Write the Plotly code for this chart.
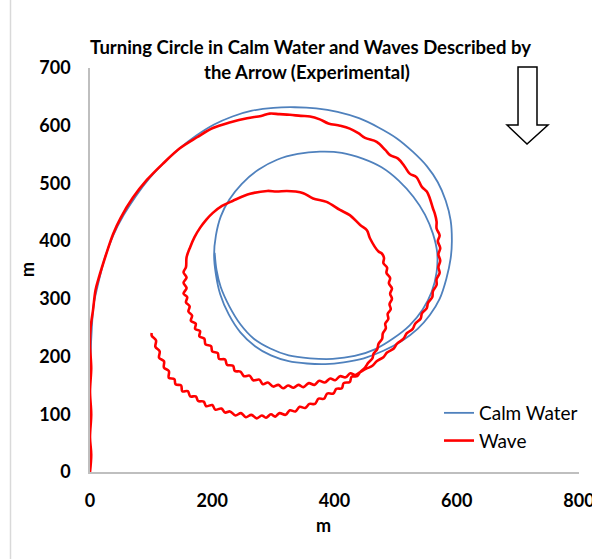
import plotly.graph_objects as go

# Ship track in calm water (m)
calm_x = [0, 0, 1, 3, 6, 12, 24, 38, 55, 75, 98, 122, 147, 174, 203, 233, 265,
          300, 335, 370, 405, 440, 472, 502, 528, 551, 569, 582, 590, 592, 590,
          583, 572, 556, 536, 510, 480, 448, 415, 385, 355, 325, 296, 270, 246,
          227, 213, 206, 203, 206, 214, 228, 248, 276, 306, 340, 376, 412, 446,
          477, 505, 529, 548, 561, 568, 567, 559, 544, 523, 497, 467, 433, 397,
          360, 325, 295, 268, 246, 228, 214, 207, 204]
calm_y = [0, 100, 200, 250, 290, 320, 370, 410, 445, 478, 510, 537, 561, 583,
          602, 616, 626, 631, 632, 630, 624, 613, 597, 578, 555, 530, 502, 470,
          436, 400, 370, 335, 300, 272, 248, 227, 210, 197, 190, 187, 188, 192,
          202, 218, 242, 273, 308, 342, 376, 410, 443, 472, 499, 524, 541, 551,
          555, 553, 543, 528, 505, 477, 446, 413, 380, 346, 312, 281, 254, 232,
          213, 201, 196, 197, 202, 214, 231, 256, 287, 320, 350, 380]

# Ship track in waves (m), piece by piece along the path
approach_x = [0, 2, 0, 2, 0, 2, 0, 1]
approach_y = [0, 30, 60, 100, 140, 180, 220, 250]
first_arc_x = [5, 9, 14, 26, 38, 50, 70, 93, 120, 147, 175, 201, 230, 257, 280,
               294, 310, 327, 345, 360]
first_arc_y = [281, 315, 335, 376, 413, 440, 475, 506, 535, 561, 580, 596, 606,
               613, 617, 621, 620, 619, 617, 616]
east_x = [376, 390, 409, 425, 439, 450, 469, 483, 491, 504, 515, 523, 534, 543,
          551, 556, 561, 564, 567, 567, 572, 569, 573, 570, 573, 570, 572, 567,
          567, 561, 560, 553, 551, 543, 541, 532, 528, 518, 513, 502, 497, 486,
          480, 469, 462, 452, 442]
east_y = [611, 604, 600, 595, 587, 579, 572, 558, 549, 543, 529, 517, 511, 494,
          486, 474, 457, 448, 434, 422, 410, 400, 388, 377, 366, 355, 345, 334,
          324, 313, 303, 293, 284, 275, 266, 257, 248, 240, 231, 222, 214, 207,
          199, 192, 184, 179, 173]
middle_x = [434, 426, 418, 409, 401, 393, 384, 375, 367, 358, 349, 341, 333, 324,
            316, 308, 300, 291, 283, 277, 267, 261, 252, 246, 237, 234, 224, 221,
            211, 209, 200, 198, 189, 187, 179, 180, 172, 173, 165, 167, 161, 163,
            157, 159, 153, 158, 153, 158, 153, 157]
middle_y = [168, 171, 164, 166, 159, 162, 155, 158, 151, 154, 147, 151, 146, 150,
            145, 151, 148, 155, 152, 160, 159, 167, 166, 174, 175, 184, 186, 195,
            196, 206, 209, 218, 221, 231, 235, 244, 248, 257, 262, 271, 278, 287,
            294, 303, 309, 319, 328, 337, 346, 355]
inner_top_x = [158, 164, 171, 180, 190, 201, 216, 234, 262, 290, 305, 322, 336,
               349, 365, 387, 409, 425, 442, 453, 458, 472]
inner_top_y = [372, 390, 407, 423, 437, 449, 461, 470, 482, 487, 486, 487, 486,
               483, 474, 468, 454, 445, 428, 419, 405, 382]
inner_east_x = [477, 481, 480, 486, 485, 491, 489, 494, 491, 494, 490, 492, 487,
                488, 483, 484, 479, 478, 472, 470, 464, 462, 455, 450, 442]
inner_east_y = [379, 371, 362, 354, 345, 336, 327, 318, 309, 300, 291, 282, 274,
                265, 257, 249, 240, 231, 222, 213, 205, 197, 189, 181, 173]
south_x = [437, 428, 425, 415, 412, 403, 398, 388, 383, 374, 368, 359, 352, 343,
           336, 327, 320, 310, 303, 296, 288, 281, 273, 264, 255, 247, 238, 229,
           221, 215, 205, 200, 190, 186, 177, 173, 164, 160, 151, 149, 140, 138,
           129, 129, 121, 121, 113, 114, 107, 108, 101, 101]
south_y = [166, 165, 156, 154, 145, 144, 136, 136, 127, 127, 118, 118, 111, 113,
           105, 107, 99, 102, 96, 100, 94, 98, 93, 99, 95, 102, 98, 105, 103, 110,
           108, 116, 114, 122, 123, 131, 131, 140, 140, 150, 152, 161, 163, 175,
           181, 192, 198, 209, 217, 228, 236, 241]

wave_x = approach_x + first_arc_x + east_x + middle_x + inner_top_x + inner_east_x + south_x
wave_y = approach_y + first_arc_y + east_y + middle_y + inner_top_y + inner_east_y + south_y
assert len(wave_x) == len(wave_y) and len(calm_x) == len(calm_y)

x_ticks = [0, 200, 400, 600, 800]
y_ticks = [0, 100, 200, 300, 400, 500, 600, 700]

W, H = 592, 559
L, R, T, B = 90, 13, 68, 87
PW, PH = W - L - R, H - T - B


def px(xp):
    return (xp - L) / PW


def py(yp):
    return (H - B - yp) / PH


FONT = "Lato"
BOLD = dict(family=FONT, size=18, color="#000000", weight="bold")

fig = go.Figure()
fig.add_trace(go.Scatter(x=calm_x, y=calm_y, mode="lines", name="Calm Water",
                         line=dict(color="#4f81bd", width=1.8, shape="spline", smoothing=1.0),
                         legendgroup="a"))
fig.add_trace(go.Scatter(x=wave_x, y=wave_y, mode="lines", name="Wave",
                         line=dict(color="#ff0000", width=2.6, shape="spline", smoothing=1.0),
                         legendgroup="b"))

axis_common = dict(showgrid=False, zeroline=False, showline=True, linecolor="#bfbfbf",
                   linewidth=1.5, ticks="", ticklabeloverflow="allow", automargin=False,
                   tickfont=BOLD)
fig.update_xaxes(range=[0, 800], tickvals=x_ticks, ticklabelstandoff=12, **axis_common)
fig.update_yaxes(range=[0, 700], tickvals=y_ticks, ticklabelstandoff=14, **axis_common)

# Arrow showing the wave direction
arrow = [(518, 67), (537, 67), (537, 125), (548, 125), (527, 144), (507, 125), (518, 125)]
path = "M " + " L ".join(f"{px(a):.4f},{py(b):.4f}" for a, b in arrow) + " Z"


def label(text, xp, yp, size=18, angle=0):
    return dict(text=text, x=px(xp), y=py(yp), xref="paper", yref="paper",
                xanchor="center", yanchor="middle", showarrow=False, textangle=angle,
                font=dict(family=FONT, size=size, color="#000000", weight="bold"))


fig.update_layout(
    width=W, height=H,
    margin=dict(l=L, r=R, t=T, b=B, autoexpand=False),
    paper_bgcolor="white", plot_bgcolor="white",
    showlegend=True,
    legend=dict(x=px(439), y=py(394), xanchor="left", yanchor="top",
                font=dict(family=FONT, size=19, color="#000000"),
                bgcolor="rgba(0,0,0,0)", tracegroupgap=0),
    shapes=[
        dict(type="path", path=path, xref="paper", yref="paper",
             line=dict(color="#000000", width=1.5), fillcolor="white"),
        dict(type="line", xref="paper", yref="paper", x0=px(10.5), x1=px(10.5),
             y0=py(0), y1=py(H), line=dict(color="#d9d9d9", width=1.5)),
    ],
    annotations=[
        label("Turning Circle in Calm Water and Waves Described by", 310, 47, 18.5),
        label("the Arrow (Experimental)", 307, 72, 18.5),
        label("m", 323, 525),
        label("m", 27, 270, angle=-90),
    ],
)

fig.write_html("out.html")
